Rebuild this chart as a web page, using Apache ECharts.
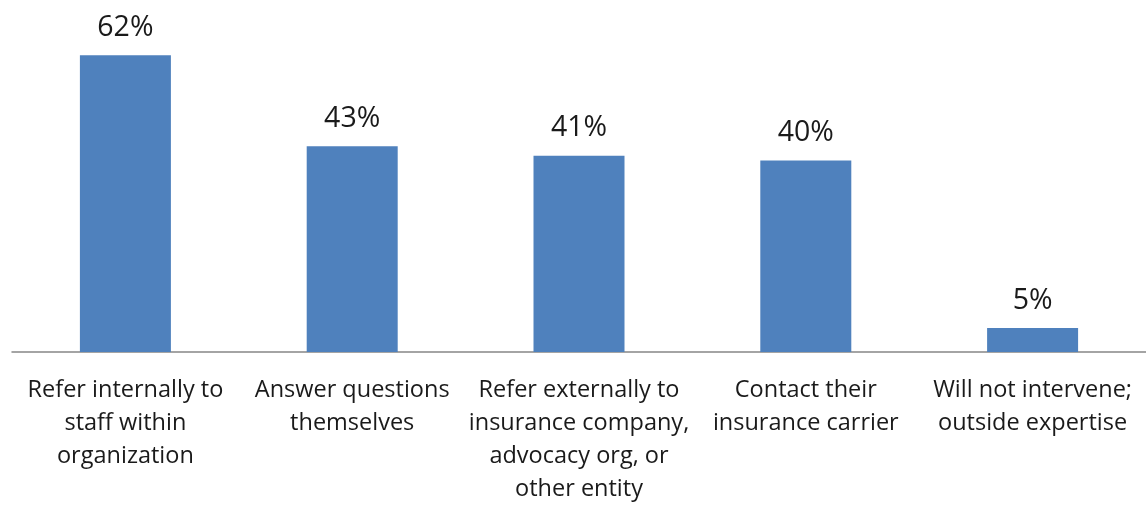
<!DOCTYPE html>
<html>
<head>
<meta charset="utf-8">
<script src="https://cdn.jsdelivr.net/npm/echarts@6/dist/echarts.min.js"></script>
<style>
  html, body { margin: 0; padding: 0; background: #ffffff; }
  #chart { width: 1146px; height: 506px; }
</style>
</head>
<body>
<div id="chart"></div>
<script>
// Categories (line breaks as they wrap under each bar)
const categories = [
  "Refer internally to\nstaff within\norganization",
  "Answer questions\nthemselves",
  "Refer externally to\ninsurance company,\nadvocacy org, or\nother entity",
  "Contact their\ninsurance carrier",
  "Will not intervene;\noutside expertise"
];

// Share of respondents, percent
const values = [62, 43, 41, 40, 5];

const chart = echarts.init(document.getElementById('chart'), null, { renderer: 'canvas' });

chart.setOption({
  animation: false,
  backgroundColor: '#ffffff',
  grid: { left: 12, right: 0, top: 17, bottom: 152, containLabel: false },
  xAxis: {
    type: 'category',
    data: categories,
    axisLine: { show: true, lineStyle: { color: '#878787', width: 1.5 } },
    axisTick: { show: false },
    axisLabel: {
      interval: 0,
      margin: 22,
      color: '#1a1a1a',
      fontFamily: 'Open Sans',
      fontSize: 23.5,
      lineHeight: 33,
      align: 'center'
    }
  },
  yAxis: {
    type: 'value',
    min: 0,
    max: 70,
    show: false,
    splitLine: { show: false }
  },
  series: [{
    type: 'bar',
    data: values,
    barWidth: 91,
    itemStyle: { color: '#4F81BD' },
    label: {
      show: true,
      position: 'top',
      distance: 13,
      formatter: '{c}%',
      color: '#1a1a1a',
      fontFamily: 'Open Sans',
      fontSize: 28.5
    }
  }]
});
</script>
</body>
</html>
